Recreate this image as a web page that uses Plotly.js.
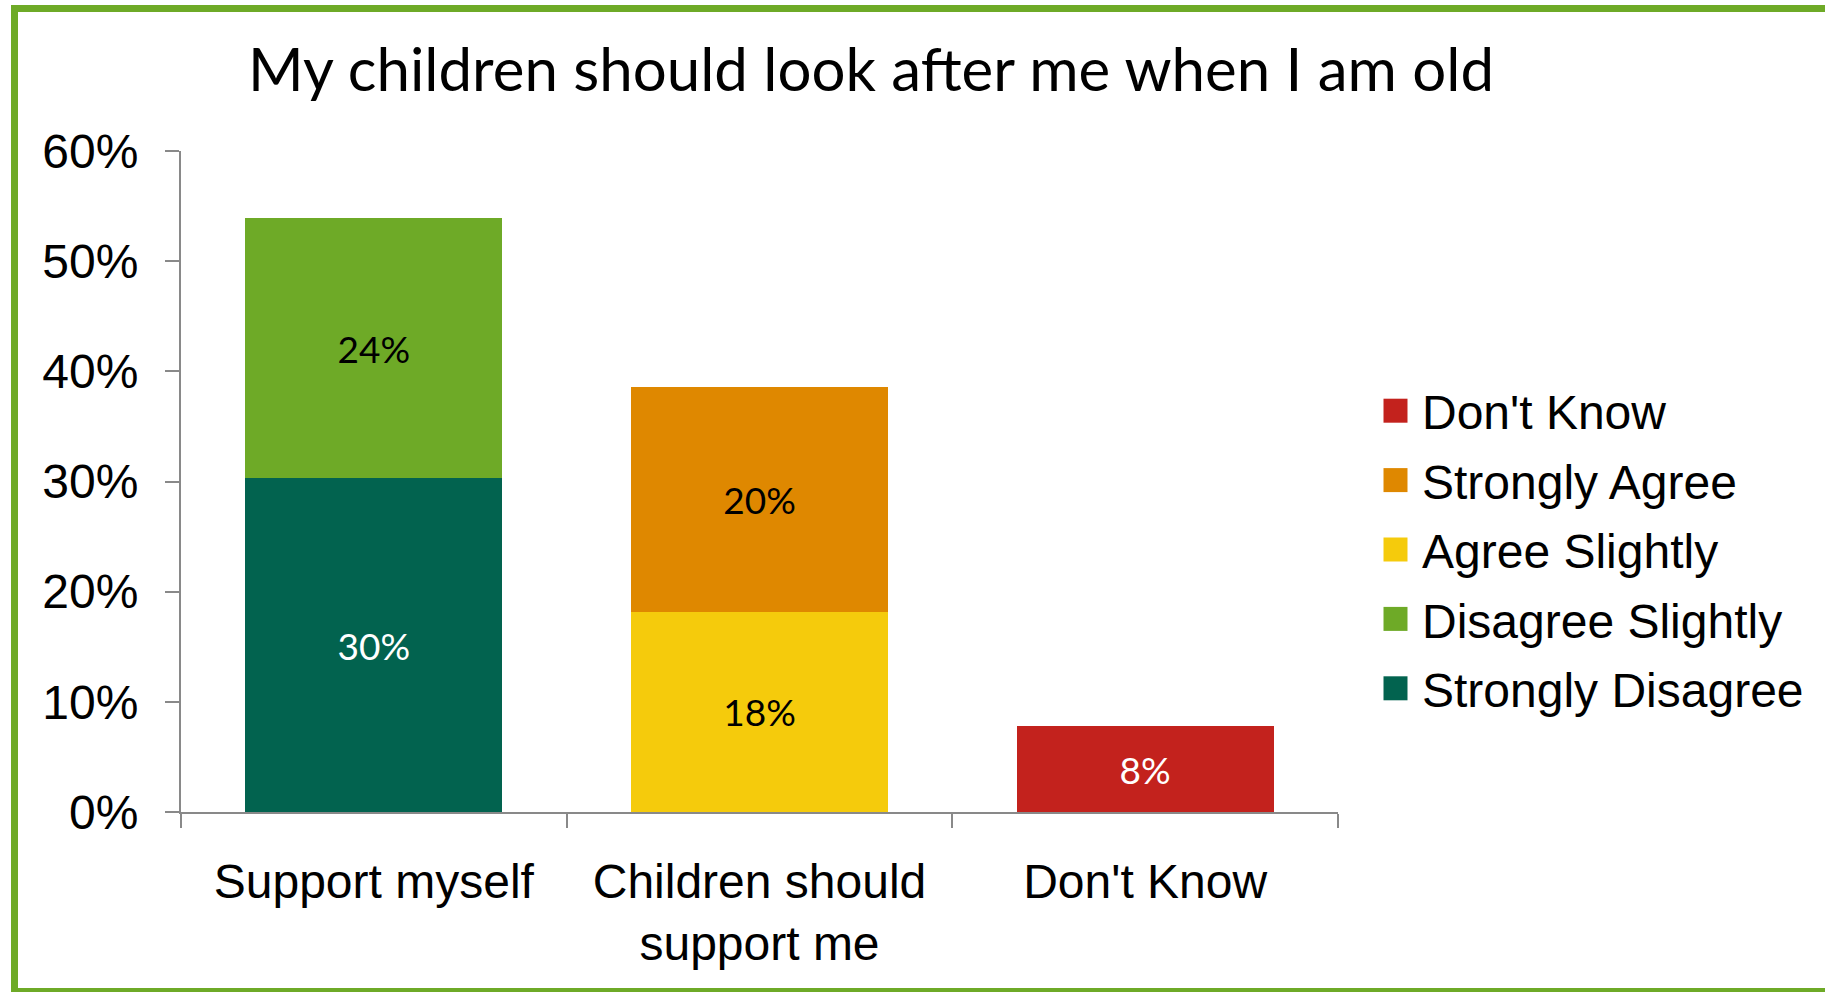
<!DOCTYPE html>
<html>
<head>
<meta charset="utf-8">
<script src="https://cdn.plot.ly/plotly-3.0.1.min.js"></script>
<style>html,body{margin:0;padding:0;background:#fff;}#chart{width:1825px;height:992px;}</style>
</head>
<body>
<div id="chart"></div>
<script>
// ---- data ----
const categories = ["Support myself", "Children should<br>support me", "Don't Know"];
const seriesNames = ["Strongly Disagree", "Disagree Slightly", "Agree Slightly", "Strongly Agree", "Don't Know"];
const stronglyDisagree = [0.303, null, null];
const disagreeSlightly = [0.236, null, null];
const agreeSlightly    = [null, 0.182, null];
const stronglyAgree    = [null, 0.204, null];
const dontKnow         = [null, null, 0.078];
const yTickVals = [0, 0.1, 0.2, 0.3, 0.4, 0.5, 0.6];

const seriesValues = [stronglyDisagree, disagreeSlightly, agreeSlightly, stronglyAgree, dontKnow];
const seriesColors = ["#02634F", "#6EAA27", "#F5CB0C", "#DF8800", "#C3221D"];
const labelColors  = ["#FFFFFF", "#000000", "#000000", "#000000", "#FFFFFF"];

const traces = seriesNames.map((name, i) => ({
  type: "bar",
  name: name,
  x: categories,
  y: seriesValues[i],
  legendgroup: "g" + i,
  legendrank: seriesNames.length - i,
  marker: {color: seriesColors[i], line: {width: 0}},
  texttemplate: "%{y:.0%}",
  textposition: "inside",
  insidetextanchor: "middle",
  textangle: 0,
  constraintext: "none",
  textfont: {family: "Lato, 'Open Sans', sans-serif", size: 37, color: labelColors[i]},
  hoverinfo: "skip"
}));

const axisGray = "#898989";
const L = 181, R = 1338, T = 151, B = 812;
const W = 1825, H = 992;
const pw = R - L, ph = B - T;
const px = v => (v - L) / pw;
const py = v => (B - v) / ph;

const layout = {
  width: W, height: H,
  margin: {l: L, r: W - R, t: T, b: H - B, pad: 0},
  paper_bgcolor: "#FFFFFF",
  plot_bgcolor: "#FFFFFF",
  barmode: "stack",
  bargap: 0.334,
  showlegend: true,
  title: {
    text: "My children should look after me when I am old",
    font: {family: "Lato, 'Open Sans', sans-serif", size: 60, color: "#000000"},
    x: 871 / W, xref: "container", xanchor: "center",
    y: 1 - 70 / H, yref: "container", yanchor: "middle"
  },
  xaxis: {
    type: "category",
    showline: true, linecolor: axisGray, linewidth: 2,
    ticks: "outside", tickson: "boundaries", ticklen: 14, tickwidth: 2, tickcolor: axisGray,
    showgrid: false, zeroline: false,
    tickfont: {family: "'Liberation Sans', Arial, sans-serif", size: 48, color: "#000000"},
    ticklabelstandoff: 26,
    fixedrange: true
  },
  yaxis: {
    range: [0, 0.6],
    tickvals: yTickVals,
    tickformat: ".0%",
    showline: true, linecolor: axisGray, linewidth: 2,
    ticks: "outside", ticklen: 14, tickwidth: 2, tickcolor: axisGray,
    showgrid: false, zeroline: false,
    tickfont: {family: "'Liberation Sans', Arial, sans-serif", size: 48, color: "#000000"},
    ticklabelstandoff: 17,
    fixedrange: true
  },
  legend: {
    x: px(1382), xanchor: "left",
    y: py(373), yanchor: "top",
    traceorder: "grouped",
    tracegroupgap: 4,
    font: {family: "'Liberation Sans', Arial, sans-serif", size: 48, color: "#000000"},
    bgcolor: "rgba(0,0,0,0)",
    borderwidth: 0
  },
  shapes: [{
    type: "rect", xref: "paper", yref: "paper",
    x0: px(14.5), x1: px(1840), y0: py(991.5), y1: py(8.5),
    line: {color: "#6EAA27", width: 7},
    fillcolor: "rgba(0,0,0,0)",
    layer: "below"
  }]
};

Plotly.newPlot("chart", traces, layout, {displayModeBar: false, staticPlot: true}).then(gd => {
  gd.querySelectorAll(".legend .legendpoints path").forEach(p => {
    p.removeAttribute("transform");
    p.setAttribute("d", "M1.5,-12H25.5V12H1.5Z");
    p.style.strokeWidth = "0";
  });
});
</script>
</body>
</html>
